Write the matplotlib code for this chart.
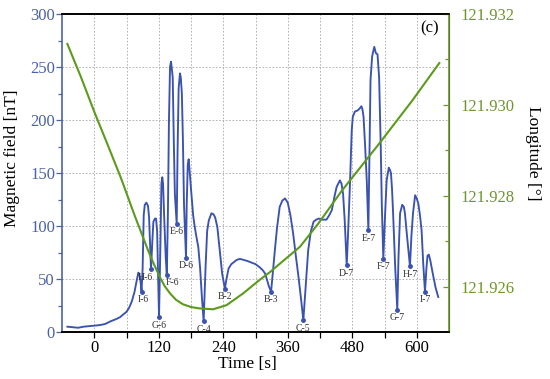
import numpy as np
import matplotlib
matplotlib.use('Agg')
import matplotlib.pyplot as plt
from matplotlib import font_manager
from matplotlib.ticker import MultipleLocator, FixedLocator

names = sorted({f.name for f in font_manager.fontManager.ttflist})
serif = [n for n in names if 'Liberation Serif' in n or 'Times' in n]
plt.rcParams['font.family'] = serif + ['DejaVu Serif']

# magnetic field trace (time [s], field [nT])
t_field = [-50, -40, -30, -20, -10, 0, 10, 20, 30, 40, 48, 55, 60, 65, 70, 75, 78, 82, 84, 86,
           90, 92, 94, 97, 100, 102, 104,
           108, 110, 113, 115, 117, 119,
           123, 125, 126.6, 128, 130, 133,
           137, 139, 141, 142.8, 144, 146, 148, 150,
           155, 157, 159.5, 161, 163, 165, 167,
           172, 174, 175.7, 177, 180, 184, 187, 190, 193.6, 197, 200,
           207, 210, 213, 218, 222, 225, 229, 234, 238,
           246, 250, 255, 260, 265, 271, 278, 285, 290, 300, 308, 314, 318, 322, 325,
           332, 336, 340, 345, 350, 355, 360, 365, 370, 375, 380, 385,
           393, 398, 403, 408, 413, 418, 425, 432, 437, 442, 447, 451, 455, 457, 460, 463, 466,
           472, 476, 479, 481, 485, 490, 494, 497, 499, 501, 504, 507,
           512, 514, 517, 521, 524, 527, 530, 533, 535,
           541, 544, 548, 550, 552, 554, 556, 560,
           566, 569, 573, 576, 578, 582,
           590, 593, 597, 600, 603, 606, 609, 612,
           618, 620, 622.5, 625, 628, 631, 635, 640]
b_field = [5, 4.5, 4, 5, 5.5, 6, 6.5, 7.5, 10, 12, 14, 17, 19, 23, 29, 38, 46, 56, 55, 48,
           60, 110, 120, 122, 119, 108, 80,
           85, 104, 107, 107, 95, 50,
           80, 140, 146, 140, 110, 70,
           110, 200, 250, 255, 250, 240, 180, 130,
           170, 230, 244, 240, 225, 180, 120,
           120, 158, 163, 155, 135, 110, 99, 90, 80, 60, 35,
           60, 95, 105, 112, 111, 108, 99, 75, 55,
           50, 60, 64, 66, 68, 69, 68, 67, 66, 64, 61, 58, 55, 48, 43,
           55, 77, 98, 118, 124, 126, 122, 110, 93, 72, 52, 30,
           40, 77, 95, 104, 106, 107, 106, 106, 110, 115, 128, 137, 141, 143, 140, 130, 105,
           90, 143, 190, 203, 208, 209, 211, 213, 210, 203, 175, 143,
           170, 238, 260, 269, 263, 262, 240, 175, 120,
           110, 143, 155, 153, 150, 135, 112, 60,
           70, 112, 120, 118, 112, 90,
           90, 112, 129, 126, 121, 110, 96, 65,
           60, 72, 73, 68, 60, 52, 42, 33]

# labelled minima
min_names = ['I-6', 'H-6', 'G-6', 'F-6', 'E-6', 'D-6', 'C-4', 'B-2', 'B-3', 'C-5',
             'D-7', 'E-7', 'F-7', 'G-7', 'H-7', 'I-7']
min_t = [88, 105.6, 120.5, 135, 153.4, 170.7, 203.5, 243, 329, 389,
         469.7, 510, 537.8, 563.8, 587.4, 615.3]
min_b = [38, 59, 14, 54, 102, 70, 10, 41, 38, 11,
         63, 96, 69, 21, 62, 38]

# longitude track
t_lon = [-50, -25, 0, 25, 50, 75, 100, 110, 122, 131, 141, 152, 165, 180, 195, 221, 246,
         277, 308, 327, 345, 383, 417, 460, 531, 592, 642]
lon = [121.93134, 121.93062, 121.92985, 121.92912, 121.92838, 121.92757, 121.92680,
       121.92652, 121.92621, 121.92601, 121.92585, 121.92571, 121.92561, 121.92555,
       121.92552, 121.92550, 121.92559, 121.92585, 121.92615, 121.92632, 121.92650,
       121.92688, 121.92739, 121.92810, 121.92916, 121.93010, 121.93092]

blue = '#3a52b0'
green = '#5c9a1c'
tick_blue = '#4a62a8'
tick_green = '#6f9430'

t_all = np.array(t_field + min_t)
b_all = np.array(b_field + min_b)
order = np.argsort(t_all)

fig = plt.figure(figsize=(5.5, 3.79), dpi=100)
ax = fig.add_axes([62 / 550, 1 - 332 / 379, 387 / 550, 318 / 379])
ax2 = ax.twinx()

ax.plot(t_all[order], b_all[order], color=blue, lw=1.35, zorder=3)
ax.plot(min_t, min_b, 'o', color=blue, ms=2.5, zorder=4)

nudge = {'H-6': -4, 'F-6': 4, 'I-6': 1}
for name, tx, bx in zip(min_names, min_t, min_b):
    ax.annotate(name, (tx, bx), xytext=(nudge.get(name, 0), -2.5), textcoords='offset points',
                ha='center', va='top', fontsize=7, color='#333333', zorder=5)

ax2.plot(t_lon, lon, color=green, lw=1.5)

ax.set_xlim(-60, 660)
ax.set_ylim(0, 300)
ax2.set_ylim(121.925, 121.932)

ax.xaxis.set_major_locator(MultipleLocator(120))
ax.xaxis.set_minor_locator(FixedLocator([60, 180, 300, 420, 540]))
ax.yaxis.set_major_locator(MultipleLocator(50))
ax.yaxis.set_minor_locator(FixedLocator([25, 75, 125, 175, 225, 275]))
ax2.yaxis.set_major_locator(FixedLocator([121.926, 121.928, 121.930, 121.932]))
ax2.yaxis.set_minor_locator(FixedLocator([121.927, 121.929, 121.931]))
ax2.set_yticklabels(['121.926', '121.928', '121.930', '121.932'])

ax.grid(True, which='both', axis='x', color='#a8a8a8', ls=(0, (2, 2)), lw=0.6)
ax.grid(True, which='major', axis='y', color='#a8a8a8', ls=(0, (2, 2)), lw=0.6)

ax.tick_params(axis='x', which='both', direction='out', length=4, width=0.9, labelsize=12, pad=2)
ax.tick_params(axis='y', which='major', direction='out', length=4, width=0.9, labelsize=12,
               colors=tick_blue, pad=1)
ax.tick_params(axis='y', which='minor', direction='out', length=3, width=0.9, colors=tick_blue)
ax2.tick_params(axis='y', which='major', direction='in', length=4, width=0.9, labelsize=12,
                colors=tick_green, pad=8)
ax2.tick_params(axis='y', which='minor', direction='in', length=3, width=0.9, colors=tick_green)

ax.spines['left'].set_color(tick_blue)
ax.spines['left'].set_linewidth(1.2)
ax2.spines['right'].set_color(tick_green)
ax2.spines['right'].set_linewidth(1.2)
ax2.spines['left'].set_visible(False)
for s in ['top', 'bottom']:
    ax.spines[s].set_linewidth(1.2)
    ax2.spines[s].set_linewidth(1.2)

ax.set_xlabel('Time [s]', fontsize=12.5)
ax.xaxis.set_label_coords(0.478, -0.077)
ax.set_ylabel('Magnetic field [nT]', fontsize=12.5)
ax.yaxis.set_label_coords(-0.108, 0.546)
ax2.set_ylabel('Longitude [°]', fontsize=12.5, rotation=270, va='center')
ax2.yaxis.set_label_coords(1.217, 0.563)

ax.text(0.975, 0.955, '(c)', transform=ax.transAxes, ha='right', va='center', fontsize=12)

fig.savefig('out.png', dpi=100)
